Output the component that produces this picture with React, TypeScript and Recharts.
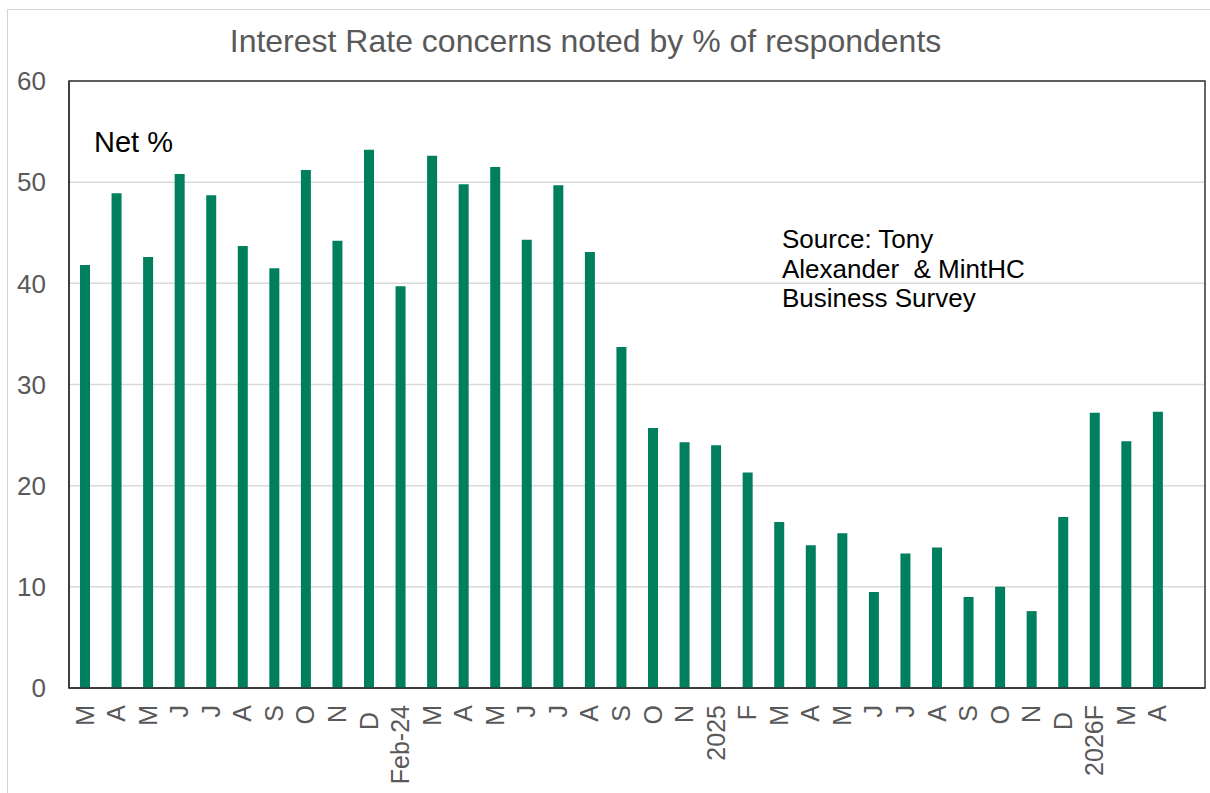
import { BarChart, Bar, XAxis, YAxis, CartesianGrid, usePlotArea } from 'recharts';

// monthly survey readings, Mar-23 through Apr-26 (last slot left empty)
const months = [
  'M', 'A', 'M', 'J', 'J', 'A', 'S', 'O', 'N', 'D ',
  'Feb-24', 'M', 'A', 'M', 'J', 'J', 'A', 'S', 'O', 'N',
  '2025', 'F', 'M', 'A', 'M', 'J', 'J', 'A', 'S', 'O',
  'N', 'D ', '2026F', 'M', 'A', '',
];

const netPercent = [
  41.8, 48.9, 42.6, 50.8, 48.7, 43.7, 41.5, 51.2, 44.2, 53.2,
  39.7, 52.6, 49.8, 51.5, 44.3, 49.7, 43.1, 33.7, 25.7, 24.3,
  24.0, 21.3, 16.4, 14.1, 15.3, 9.5, 13.3, 13.9, 9.0, 10.0,
  7.6, 16.9, 27.2, 24.4, 27.3, null,
];

const yTicks = [0, 10, 20, 30, 40, 50, 60];

const sourceLines = ['Source: Tony', 'Alexander  & MintHC', 'Business Survey'];

const data = months.map((month, i) => ({ month, net: netPercent[i] }));

const FONT = '"Liberation Sans", Arial, sans-serif';
const GREY = '#595959';
const FRAME = '#333333';

const MonthTick = (props: any) => {
  const { x, y, payload } = props;
  return (
    <text
      transform={`translate(${x},${y}) rotate(-90)`}
      textAnchor="end"
      dy="0.35em"
      fontSize={25}
      fontFamily={FONT}
      fill={GREY}
      style={{ whiteSpace: 'pre' }}
    >
      {payload.value}
    </text>
  );
};

// box around the plot area
const PlotFrame = () => {
  const area = usePlotArea();
  if (!area) return null;
  return (
    <rect
      x={area.x}
      y={area.y}
      width={area.width}
      height={area.height}
      fill="none"
      stroke={FRAME}
      strokeWidth={1.5}
    />
  );
};

const App = () => {
  return (
    <div
      style={{
        position: 'absolute',
        left: 0,
        top: 0,
        width: 1210,
        height: 793,
        overflow: 'hidden',
        background: '#fff',
        fontFamily: FONT,
      }}
    >
      <div
        style={{
          position: 'absolute',
          left: 7,
          top: 9,
          width: 1300,
          height: 900,
          border: '1.5px solid #d4d4d4',
        }}
      />
      <BarChart
        width={1210}
        height={793}
        data={data}
        margin={{ top: 81, right: 5, bottom: 5, left: 9 }}
        barSize={10}
        style={{ position: 'absolute', left: 0, top: 0 }}
      >
        <CartesianGrid vertical={false} stroke="#d9d9d9" strokeWidth={1.5} />
        <XAxis
          dataKey="month"
          interval={0}
          height={100}
          tickLine={false}
          tickSize={0}
          tickMargin={17}
          tick={<MonthTick />}
          axisLine={{ stroke: FRAME, strokeWidth: 1.5 }}
        />
        <YAxis
          domain={[0, 60]}
          ticks={yTicks}
          interval={0}
          width={60}
          tickLine={false}
          tickSize={0}
          tickMargin={23}
          tick={{ fontSize: 26, fill: GREY, fontFamily: FONT }}
          axisLine={{ stroke: FRAME, strokeWidth: 1.5 }}
        />
        <Bar dataKey="net" fill="#007f5f" isAnimationActive={false} />
        <PlotFrame />
      </BarChart>
      <svg
        width={1210}
        height={793}
        style={{ position: 'absolute', left: 0, top: 0, pointerEvents: 'none' }}
      >
        <text x={585.5} y={52} textAnchor="middle" fontSize={32} fill={GREY} fontFamily={FONT}>
          Interest Rate concerns noted by % of respondents
        </text>
        <text x={94} y={152} fontSize={29} fill="#000" fontFamily={FONT}>
          Net %
        </text>
        {sourceLines.map((line, i) => (
          <text
            key={i}
            x={782}
            y={248 + i * 29.5}
            fontSize={26}
            fill="#000"
            fontFamily={FONT}
            style={{ whiteSpace: 'pre' }}
          >
            {line}
          </text>
        ))}
      </svg>
    </div>
  );
};

export default App;
